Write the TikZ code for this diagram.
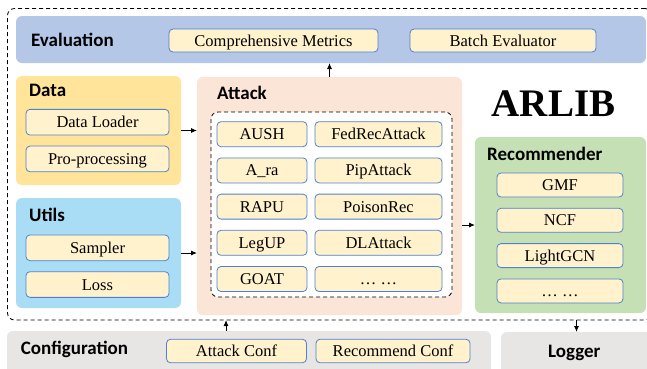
\documentclass[tikz,border=0pt]{standalone}
\usepackage{fontspec}
\setmainfont{Liberation Serif}
\newfontfamily\hdfont{Carlito}
\usepackage{tikz}
\usetikzlibrary{arrows.meta}
\usetikzlibrary{positioning}
\definecolor{evalblue}{HTML}{B4C7E7}
\definecolor{datayellow}{HTML}{FFE49A}
\definecolor{utilblue}{HTML}{A9DDF5}
\definecolor{attackpeach}{HTML}{FBE5D6}
\definecolor{recgreen}{HTML}{C5E0B4}
\definecolor{confgrey}{HTML}{E8E5E5}
\definecolor{unitfill}{HTML}{FFF2CC}
\definecolor{unitline}{HTML}{5081CB}
\newcommand{\panelhead}[3]{\node[head,anchor=base west] (#1) at (#2) {#3}}

\begin{document}
\begin{tikzpicture}[x=1pt,y=-1pt,>={Latex[length=6pt,width=5pt]},
    panel/.style={rounded corners=6pt,outer sep=0pt,inner sep=0pt},
    head/.style={font=\hdfont\fontsize{19}{22}\selectfont\bfseries,inner sep=0pt},
    unit/.style={draw=unitline,line width=0.8pt,fill=unitfill,rounded corners=4pt,
      font=\fontsize{16.5}{18}\selectfont,text height=11pt,text depth=0pt,
      inner sep=0pt,outer sep=0pt},
    pool/.style={draw,dashed,line width=0.8pt,dash pattern=on 4pt off 3pt,rounded corners=7pt}]
    \useasboundingbox (0,0) rectangle (647,368);
    % outer frame of the library
    \node[pool,minimum width=644.5pt,minimum height=311.5pt,outer sep=0pt] (arlib) at (329.75,164.25) {};
    % evaluation
    \node[panel,fill=evalblue,minimum width=630pt,minimum height=47pt] (eval) at (331,39.5) {};
    \panelhead{evalhd}{31,46}{Evaluation};
    \node[unit,minimum width=209pt,minimum height=23pt] (metrics) at (273.5,40.5) {Comprehensive Metrics};
    \node[unit,minimum width=186pt,minimum height=23pt] (batch) at (503,40.5) {Batch Evaluator};
    % data
    \node[panel,fill=datayellow,minimum width=165pt,minimum height=109pt] (data) at (98.5,130.5) {};
    \panelhead{datahd}{29,96}{Data};
    \node[unit,minimum width=143pt,minimum height=25.7pt] (loader) at (97.5,122.2) {Data Loader};
    \node[unit,minimum width=143pt,minimum height=25.7pt,below=11pt of loader] (prep) {Pro-processing};
    % utils
    \node[panel,fill=utilblue,minimum width=165pt,minimum height=110pt] (utils) at (98.5,253) {};
    \panelhead{utilshd}{29,221.7}{Utils};
    \node[unit,minimum width=143pt,minimum height=25.7pt] (sampler) at (97.5,247.8) {Sampler};
    \node[unit,minimum width=143pt,minimum height=25.7pt,below=11pt of sampler] (loss) {Loss};
    % attack
    \node[panel,fill=attackpeach,minimum width=265pt,minimum height=238pt] (attack) at (329.5,196) {};
    \panelhead{attackhd}{217,99.3}{Attack};
    \node[pool,fill=white,minimum width=241pt,minimum height=185pt] (attacks) at (331.5,204.5) {};
    \node[unit,minimum width=90pt,minimum height=25pt] (aush) at (262,134.2) {AUSH};
    \node[unit,minimum width=90pt,minimum height=25pt,below=11.2pt of aush] (ara) {A\_ra};
    \node[unit,minimum width=90pt,minimum height=25pt,below=11.2pt of ara] (rapu) {RAPU};
    \node[unit,minimum width=90pt,minimum height=25pt,below=11.2pt of rapu] (legup) {LegUP};
    \node[unit,minimum width=90pt,minimum height=25pt,below=11.2pt of legup] (goat) {GOAT};
    \node[unit,minimum width=127pt,minimum height=25pt] (fedrec) at (378.5,134.2) {FedRecAttack};
    \node[unit,minimum width=127pt,minimum height=25pt,below=11.2pt of fedrec] (pip) {PipAttack};
    \node[unit,minimum width=127pt,minimum height=25pt,below=11.2pt of pip] (poison) {PoisonRec};
    \node[unit,minimum width=127pt,minimum height=25pt,below=11.2pt of poison] (dlattack) {DLAttack};
    \node[unit,minimum width=127pt,minimum height=25pt,below=11.2pt of dlattack] (moreatk) {\ldots{} \ldots};
    % title
    \node[font=\fontsize{39}{40}\selectfont\bfseries,inner sep=0pt,anchor=base] (title) at (553.5,116) {ARLIB};
    % recommender
    \node[panel,fill=recgreen,minimum width=171pt,minimum height=176pt] (rec) at (560.5,225) {};
    \panelhead{rechd}{487,160}{Recommender};
    \node[unit,minimum width=126pt,minimum height=24pt] (gmf) at (560,185) {GMF};
    \node[unit,minimum width=126pt,minimum height=24pt,below=11.3pt of gmf] (ncf) {NCF};
    \node[unit,minimum width=126pt,minimum height=24pt,below=11.3pt of ncf] (lightgcn) {LightGCN};
    \node[unit,minimum width=126pt,minimum height=24pt,below=11.3pt of lightgcn] (morerec) {\ldots{} \ldots};
    % configuration and logger
    \node[panel,fill=confgrey,minimum width=484pt,minimum height=49pt] (config) at (249,355.5) {};
    \panelhead{confighd}{20.7,354}{Configuration};
    \node[unit,minimum width=140pt,minimum height=23.5pt] (atkconf) at (236.5,351) {Attack Conf};
    \node[unit,minimum width=154pt,minimum height=23.5pt] (recconf) at (393,351) {Recommend Conf};
    \node[panel,fill=confgrey,minimum width=151pt,minimum height=48pt] (logger) at (576.5,356) {};
    \panelhead{loggerhd}{548,357}{Logger};
    % data flow
    \coordinate (cfgup) at (226,331);
    \draw[->,line width=0.9pt] (data.east) -- (data.east -| attack.west);
    \draw[->,line width=0.9pt] (utils.east) -- (utils.east -| attack.west);
    \draw[->,line width=0.9pt] (rec.west -| attack.east) -- (rec.west);
    \draw[->,line width=0.9pt] (attack.north) -- (attack.north |- eval.south);
    \draw[->,line width=0.9pt] (cfgup |- config.north) -- (cfgup |- arlib.south);
    \draw[->,line width=0.9pt] (logger.north |- arlib.south) -- (logger.north);
\end{tikzpicture}
\end{document}
